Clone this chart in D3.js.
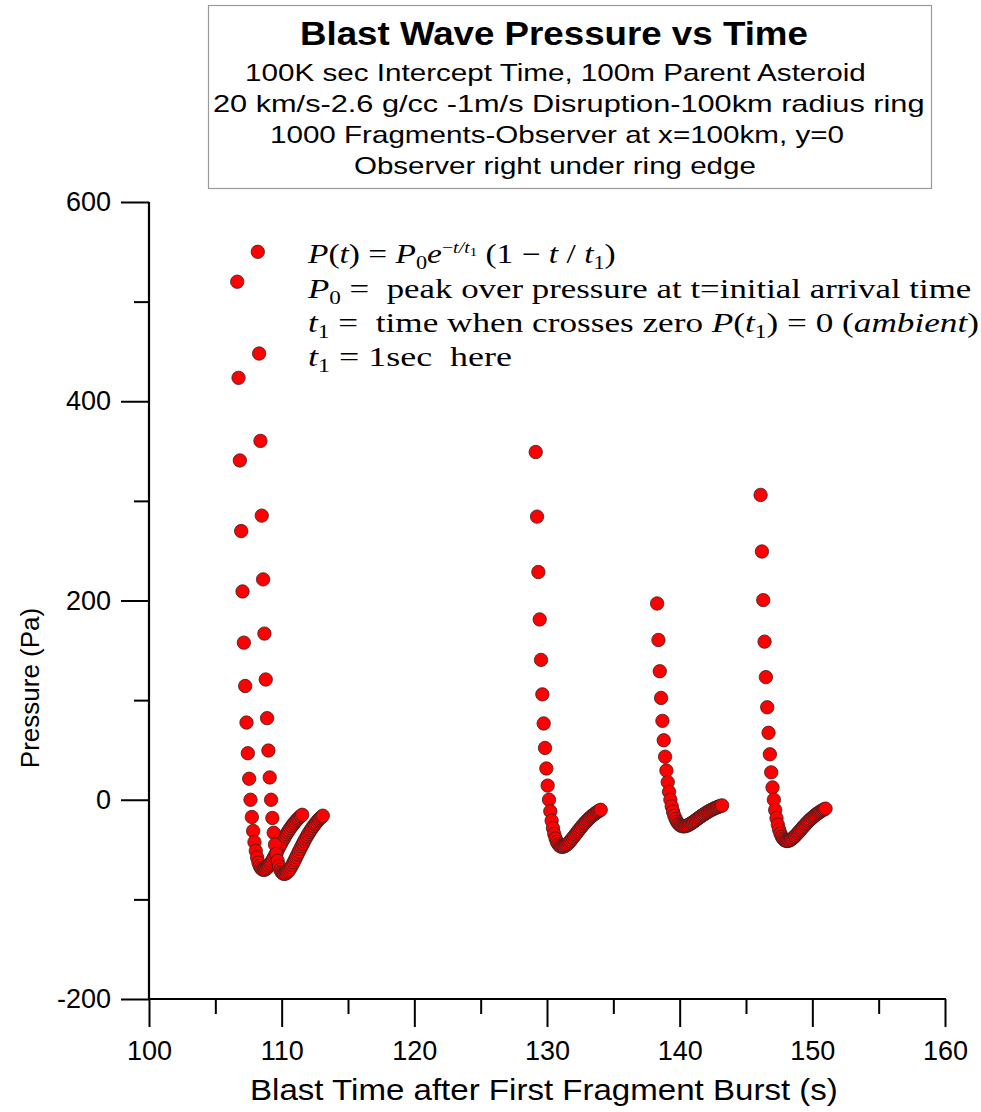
<!DOCTYPE html>
<html><head><meta charset="utf-8">
<script src="https://cdn.jsdelivr.net/npm/d3@7"></script>
<style>body{margin:0;background:#fff}svg{display:block}</style>
</head><body>
<svg id="c" width="981" height="1112"></svg>
<script>
// ---------------- DATA ----------------
const titleText = "Blast Wave Pressure vs Time";
const subtitleLines = [
  "100K sec Intercept Time, 100m Parent Asteroid",
  "20 km/s-2.6 g/cc -1m/s Disruption-100km radius ring",
  "1000 Fragments-Observer at x=100km, y=0",
  "Observer right under ring edge"
];
const xLabel = "Blast Time after First Fragment Burst (s)";
const yLabel = "Pressure (Pa)";
const xTicks = [100, 110, 120, 130, 140, 150, 160];
const xMinorTicks = [105, 115, 125, 135, 145, 155];
const yTicks = [-200, 0, 200, 400, 600];
const yMinorTicks = [-100, 100, 300, 500];

const timeA = [106.65,106.75,106.85,106.95,107.05,107.15,107.25,107.35,107.45,107.55,107.65,107.75,107.85,107.95,108.05,108.15,108.25,108.35,108.45,108.55,108.65,108.75,108.85,108.95,109.05,109.15,109.25,109.35,109.45,109.55,109.65,109.75,109.85,109.95,110.05,110.15,110.25,110.35,110.45,110.55,110.65,110.75,110.85,110.95,111.05,111.15,111.25,111.35,111.45,111.55];
const pressA = [520,423.5,340.6,269.7,209.1,157.7,114.2,77.5,46.7,21.1,0,-17.3,-31.3,-42.5,-51.3,-58.0,-63.0,-66.5,-68.8,-70.0,-70.4,-70.0,-69.1,-67.8,-66.0,-64.0,-61.8,-59.4,-56.9,-54.4,-51.8,-49.2,-46.6,-44.1,-41.6,-39.3,-36.9,-34.7,-32.6,-30.5,-28.6,-26.7,-25.0,-23.3,-21.7,-20.2,-18.8,-17.5,-16.3,-15.1];

const timeB = [108.2,108.3,108.4,108.5,108.6,108.7,108.8,108.9,109.0,109.1,109.2,109.3,109.4,109.5,109.6,109.7,109.8,109.9,110.0,110.1,110.2,110.3,110.4,110.5,110.6,110.7,110.8,110.9,111.0,111.1,111.2,111.3,111.4,111.5,111.6,111.7,111.8,111.9,112.0,112.1,112.2,112.3,112.4,112.5,112.6,112.7,112.8,112.9,113.0,113.1];
const pressB = [550,447.9,360.2,285.2,221.2,166.8,120.7,81.9,49.4,22.4,0,-18.3,-33.1,-45.0,-54.3,-61.4,-66.6,-70.3,-72.7,-74.0,-74.4,-74.1,-73.1,-71.7,-69.9,-67.7,-65.4,-62.8,-60.2,-57.5,-54.8,-52.0,-49.3,-46.7,-44.1,-41.5,-39.1,-36.7,-34.5,-32.3,-30.2,-28.3,-26.4,-24.6,-23.0,-21.4,-19.9,-18.5,-17.2,-16.0];

const timeC = [129.15,129.25,129.35,129.45,129.55,129.65,129.75,129.85,129.95,130.05,130.15,130.25,130.35,130.45,130.55,130.65,130.75,130.85,130.95,131.05,131.15,131.25,131.35,131.45,131.55,131.65,131.75,131.85,131.95,132.05,132.15,132.25,132.35,132.45,132.55,132.65,132.75,132.85,132.95,133.05,133.15,133.25,133.35,133.45,133.55,133.65,133.75,133.85,133.95,134.05];
const pressC = [349,284.2,228.6,181.0,140.4,105.8,76.6,52.0,31.4,14.2,0,-11.6,-21.0,-28.5,-34.4,-38.9,-42.3,-44.6,-46.2,-47.0,-47.2,-47.0,-46.4,-45.5,-44.3,-43.0,-41.5,-39.9,-38.2,-36.5,-34.8,-33.0,-31.3,-29.6,-28.0,-26.3,-24.8,-23.3,-21.9,-20.5,-19.2,-17.9,-16.7,-15.6,-14.6,-13.6,-12.6,-11.7,-10.9,-10.1];

const timeD = [138.3,138.4,138.5,138.6,138.7,138.8,138.9,139.0,139.1,139.2,139.3,139.4,139.5,139.6,139.7,139.8,139.9,140.0,140.1,140.2,140.3,140.4,140.5,140.6,140.7,140.8,140.9,141.0,141.1,141.2,141.3,141.4,141.5,141.6,141.7,141.8,141.9,142.0,142.1,142.2,142.3,142.4,142.5,142.6,142.7,142.8,142.9,143.0,143.1,143.2];
const pressD = [197,160.4,129.0,102.2,79.2,59.7,43.2,29.3,17.7,8.0,0,-6.6,-11.9,-16.1,-19.4,-22.0,-23.9,-25.2,-26.1,-26.5,-26.7,-26.5,-26.2,-25.7,-25.0,-24.3,-23.4,-22.5,-21.6,-20.6,-19.6,-18.6,-17.7,-16.7,-15.8,-14.9,-14.0,-13.2,-12.3,-11.6,-10.8,-10.1,-9.5,-8.8,-8.2,-7.7,-7.1,-6.6,-6.2,-5.7];

const timeE = [146.1,146.2,146.3,146.4,146.5,146.6,146.7,146.8,146.9,147.0,147.1,147.2,147.3,147.4,147.5,147.6,147.7,147.8,147.9,148.0,148.1,148.2,148.3,148.4,148.5,148.6,148.7,148.8,148.9,149.0,149.1,149.2,149.3,149.4,149.5,149.6,149.7,149.8,149.9,150.0,150.1,150.2,150.3,150.4,150.5,150.6,150.7,150.8,150.9,151.0];
const pressE = [306,249.2,200.4,158.7,123.1,92.8,67.2,45.6,27.5,12.4,0,-10.2,-18.4,-25.0,-30.2,-34.1,-37.1,-39.1,-40.5,-41.2,-41.4,-41.2,-40.7,-39.9,-38.9,-37.7,-36.4,-35.0,-33.5,-32.0,-30.5,-28.9,-27.4,-26.0,-24.5,-23.1,-21.7,-20.4,-19.2,-18.0,-16.8,-15.7,-14.7,-13.7,-12.8,-11.9,-11.1,-10.3,-9.6,-8.9];

// ---------------- CHART ----------------
const svg = d3.select("#c");
const SANS = "'Liberation Sans', Arial, sans-serif";
const SERIF = "'Liberation Serif', 'Times New Roman', serif";

const x = d3.scaleLinear().domain([100, 160]).range([149, 945]);
const y = d3.scaleLinear().domain([-200, 600]).range([999, 202]);
const fmt = d => (d < 0 ? "-" + Math.abs(d) : String(d));

function fitLeft(sel, x0, yb, w) {
  sel.attr("x", 0).attr("y", 0);
  const bw = sel.node().getBBox().width;
  sel.attr("transform", `translate(${x0},${yb}) scale(${w / bw},1)`);
}

// Title box
svg.append("rect").attr("x", 208.5).attr("y", 5.5).attr("width", 723).attr("height", 183)
  .attr("fill", "#fff").attr("stroke", "#9a9a9a").attr("stroke-width", 1.2);

fitLeft(svg.append("text").text(titleText).attr("font-family", SANS).attr("font-weight", "bold")
  .attr("font-size", 33), 300, 45, 508);
const subPos = [[245, 81, 621], [213, 112, 712], [270, 143, 574], [354, 174, 402]];
subtitleLines.forEach((s, i) => {
  fitLeft(svg.append("text").text(s).attr("font-family", SANS).attr("font-size", 24),
    subPos[i][0], subPos[i][1], subPos[i][2]);
});

// Axes
const axisStyle = g => {
  g.selectAll(".domain").remove();
  g.selectAll("line").attr("stroke", "#000").attr("stroke-width", 2);
  g.selectAll("text").attr("font-family", SANS).attr("font-size", 27).attr("fill", "#000");
};
svg.append("g").attr("transform", "translate(149,0)")
  .call(d3.axisLeft(y).tickValues(yTicks).tickSize(28).tickPadding(10).tickFormat(fmt))
  .call(axisStyle);
svg.append("g").attr("transform", "translate(149,0)")
  .call(d3.axisLeft(y).tickValues(yMinorTicks).tickSize(15).tickFormat(""))
  .call(axisStyle);
svg.append("g").attr("transform", "translate(0,999)")
  .call(d3.axisBottom(x).tickValues(xTicks).tickSize(28).tickPadding(14).tickFormat(fmt))
  .call(axisStyle);
svg.append("g").attr("transform", "translate(0,999)")
  .call(d3.axisBottom(x).tickValues(xMinorTicks).tickSize(15).tickFormat(""))
  .call(axisStyle);
svg.append("line").attr("x1", x(100)).attr("x2", x(100)).attr("y1", y(600)).attr("y2", y(-200) + 1)
  .attr("stroke", "#000").attr("stroke-width", 2.2);
svg.append("line").attr("x1", x(100) - 1).attr("x2", x(160) + 1).attr("y1", y(-200)).attr("y2", y(-200))
  .attr("stroke", "#000").attr("stroke-width", 2.2);

// axis titles
fitLeft(svg.append("text").text(xLabel).attr("font-family", SANS).attr("font-size", 30), 250, 1100, 588);
svg.append("text").text(yLabel).attr("font-family", SANS).attr("font-size", 26)
  .attr("text-anchor", "middle").attr("transform", "translate(39,688) rotate(-90)");

// Markers
const pulses = [[timeA, pressA], [timeB, pressB], [timeC, pressC], [timeD, pressD], [timeE, pressE]];
const pts = [];
pulses.forEach(([t, p]) => t.forEach((tv, i) => pts.push({ t: tv, p: p[i] })));
svg.append("g").selectAll("circle").data(pts).join("circle")
  .attr("cx", d => x(d.t)).attr("cy", d => y(d.p)).attr("r", 6.7)
  .attr("fill", "#ff0000").attr("stroke", "#3a2020").attr("stroke-width", 0.8);

// Formula annotation
function richLine(parts, x0, yb, w) {
  const t = svg.append("text").attr("font-family", SERIF).attr("font-size", 27)
    .style("white-space", "pre");
  let cur = 0;
  parts.forEach(p => {
    const o = typeof p === "string" ? { s: p } : p;
    const target = o.dy || 0;
    const ts = t.append("tspan").text(o.s).attr("dy", target - cur);
    cur = target;
    if (o.i) ts.attr("font-style", "italic");
    if (o.fs) ts.attr("font-size", o.fs);
  });
  fitLeft(t, x0, yb, w);
}
richLine([{ s: "P", i: 1 }, "(", { s: "t", i: 1 }, ") = ", { s: "P", i: 1 }, { s: "0", dy: 6, fs: 18 },
  { s: "e", i: 1 }, { s: "−", dy: -10, fs: 16 }, { s: "t", dy: -10, fs: 16, i: 1 }, { s: "/", dy: -10, fs: 16, i: 1 },
  { s: "t", dy: -10, fs: 16, i: 1 }, { s: "1", dy: -7, fs: 12 }, { s: " (1 − " }, { s: "t", i: 1 }, " / ", { s: "t", i: 1 },
  { s: "1", dy: 6, fs: 18 }, ")"], 308, 263, 309);
richLine([{ s: "P", i: 1 }, { s: "0", dy: 6, fs: 18 }, " =  peak over pressure at t=initial arrival time"], 308, 298, 665);
richLine([{ s: "t", i: 1 }, { s: "1", dy: 6, fs: 18 }, " =  time when crosses zero ", { s: "P", i: 1 }, "(", { s: "t", i: 1 },
  { s: "1", dy: 6, fs: 18 }, ") = 0 (", { s: "ambient", i: 1 }, ")"], 308, 332, 671);
richLine([{ s: "t", i: 1 }, { s: "1", dy: 6, fs: 18 }, " = 1sec  here"], 308, 366, 204);
</script>
</body></html>
